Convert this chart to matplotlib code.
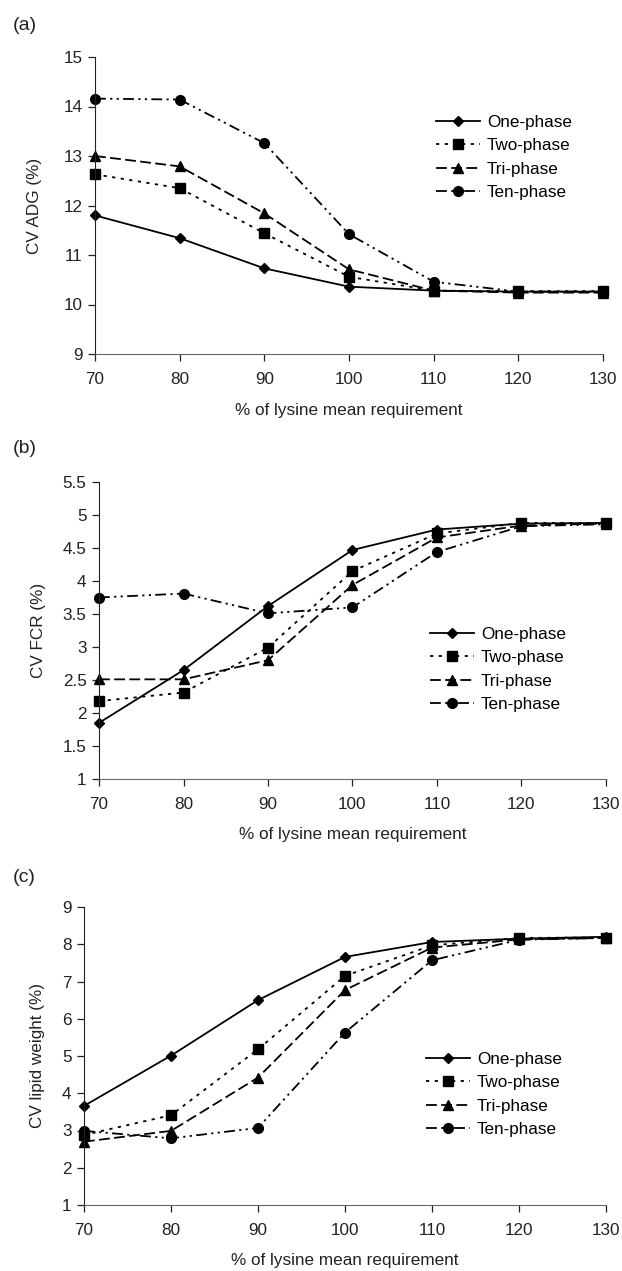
import matplotlib
matplotlib.use('Agg')
import matplotlib.pyplot as plt
import numpy as np

plt.rcParams['font.family'] = ['Liberation Sans', 'DejaVu Sans']

lysine = [70, 80, 90, 100, 110, 120, 130]
series_names = ['One-phase', 'Two-phase', 'Tri-phase', 'Ten-phase']

# (a) CV ADG (%)
adg_one = [11.80, 11.34, 10.73, 10.36, 10.28, 10.26, 10.26]
adg_two = [12.63, 12.35, 11.44, 10.56, 10.28, 10.27, 10.27]
adg_tri = [13.00, 12.79, 11.84, 10.71, 10.28, 10.24, 10.24]
adg_ten = [14.16, 14.14, 13.26, 11.42, 10.46, 10.26, 10.26]

# (b) CV FCR (%)
fcr_one = [1.85, 2.65, 3.62, 4.47, 4.78, 4.87, 4.88]
fcr_two = [2.18, 2.31, 2.99, 4.15, 4.72, 4.88, 4.88]
fcr_tri = [2.51, 2.51, 2.80, 3.94, 4.66, 4.84, 4.87]
fcr_ten = [3.75, 3.81, 3.51, 3.60, 4.44, 4.83, 4.86]

# (c) CV lipid weight (%)
lip_one = [3.66, 5.01, 6.50, 7.66, 8.06, 8.15, 8.20]
lip_two = [2.88, 3.41, 5.18, 7.15, 7.97, 8.17, 8.18]
lip_tri = [2.70, 2.99, 4.42, 6.77, 7.91, 8.13, 8.17]
lip_ten = [2.99, 2.79, 3.07, 5.63, 7.57, 8.12, 8.17]

W, H = 622, 1271
fig = plt.figure(figsize=(W / 100, H / 100), dpi=100)

styles = [
    dict(linestyle='-', marker='D', markersize=5.5),
    dict(linestyle=(0, (1.8, 3.0)), marker='s', markersize=6.5),
    dict(linestyle=(0, (6.0, 2.4)), marker='^', markersize=7.5),
    dict(linestyle=(0, (6.0, 2.4, 1.2, 2.4, 1.2, 2.4)), marker='o', markersize=7),
]

panels = [
    dict(tag='(a)', ylabel='CV ADG (%)', data=[adg_one, adg_two, adg_tri, adg_ten],
         box=(95, 603, 57, 354), ylim=(9, 15), yticks=np.arange(9, 15.1, 1),
         tagy=25, leg=(427, 106), ylabx=35),
    dict(tag='(b)', ylabel='CV FCR (%)', data=[fcr_one, fcr_two, fcr_tri, fcr_ten],
         box=(99, 606, 482, 779), ylim=(1, 5.5), yticks=np.arange(1, 5.51, 0.5),
         tagy=448, leg=(421, 618), ylabx=38),
    dict(tag='(c)', ylabel='CV lipid weight (%)', data=[lip_one, lip_two, lip_tri, lip_ten],
         box=(84, 606, 907, 1205), ylim=(1, 9), yticks=np.arange(1, 9.1, 1),
         tagy=877, leg=(417, 1043), ylabx=38),
]

fs = 12.3
for p in panels:
    l, r, t, b = p['box']
    ax = fig.add_axes([l / W, 1 - b / H, (r - l) / W, (b - t) / H])
    for name, vals, st in zip(series_names, p['data'], styles):
        ax.plot(lysine, vals, color='black', linewidth=1.3, label=name,
                markeredgecolor='black', markerfacecolor='black', clip_on=False, **st)
    ax.set_xlim(70, 130)
    ax.set_ylim(*p['ylim'])
    ax.set_xticks(lysine)
    ax.set_yticks(p['yticks'])
    ax.set_yticklabels(['%g' % v for v in p['yticks']])
    for s in ['top', 'right']:
        ax.spines[s].set_visible(False)
    ax.spines['left'].set_color('#222222')
    ax.spines['bottom'].set_color('#666666')
    ax.tick_params(labelsize=fs, length=5, width=0.9, colors='#222222')
    ax.tick_params(axis='x', pad=8)
    ax.tick_params(axis='y', pad=4)
    ax.set_ylabel(p['ylabel'], fontsize=fs, color='#222222', va='center')
    ax.yaxis.set_label_coords((p['ylabx'] - l) / (r - l), 0.5)
    ax.set_xlabel('% of lysine mean requirement', fontsize=fs, color='#222222', va='center')
    ax.xaxis.set_label_coords(0.5, -56 / (b - t))
    fig.text(13 / W, 1 - p['tagy'] / H, p['tag'], fontsize=14, va='center', ha='left',
             color='#222222')
    lx, ly = p['leg']
    ax.legend(loc='upper left', bbox_to_anchor=(lx / W, 1 - ly / H),
              bbox_transform=fig.transFigure, frameon=False, fontsize=fs,
              handlelength=2.6, handletextpad=0.4, labelspacing=0.5,
              borderpad=0, numpoints=1)

fig.savefig('out.png', dpi=100)
